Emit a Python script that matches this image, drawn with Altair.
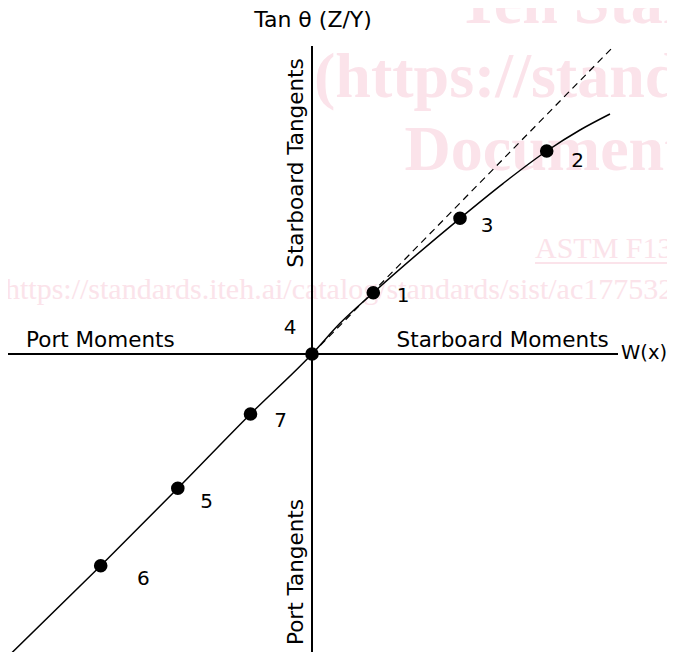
import altair as alt
import pandas as pd

# ---- data (arbitrary units: moment W(x), tangent Tan θ) ----
pt_label = ["4", "1", "3", "2", "7", "5", "6"]
pt_moment = [0.0, 0.613, 1.48, 2.347, -0.615, -1.342, -2.113]
pt_tangent = [0.0, 0.613, 1.357, 2.03, -0.60, -1.343, -2.117]
lab_moment = [-0.22, 0.91, 1.75, 2.655, -0.313, -1.054, -1.687]
lab_tangent = [0.26, 0.585, 1.28, 1.935, -0.667, -1.477, -2.253]

curve_moment = [-3.055, -2.113, -1.342, -0.615, 0.0, 0.28, 0.613, 1.48, 1.913, 2.347, 2.68, 2.98]
curve_tangent = [-3.04, -2.117, -1.343, -0.60, 0.0, 0.307, 0.613, 1.357, 1.707, 2.03, 2.24, 2.40]

dash_moment = [0.0, 3.02]
dash_tangent = [0.0, 3.08]

# axis extents
haxis_x = [-3.08, 3.06]
vaxis_y = [-3.06, 3.08]

# axis / region texts
h_text = ["Tan θ (Z/Y)", "Port Moments", "Starboard Moments"]
h_text_x = [0.01, -2.116, 1.907]
h_text_y = [3.275, 0.073, 0.073]
h_text_size = [22, 21.5, 21.5]
w_text = ["W(x)"]
w_text_x = [3.09]
w_text_y = [-0.05]
v_text = ["Starboard Tangents", "Port Tangents"]
v_text_x = [-0.15, -0.15]
v_text_y = [1.91, -2.18]

# watermark texts
wm_big = ["Teh Standards", "(https://standards.iteh.ai)", "Document Preview"]
wm_big_x = [1.45, 0.02, 0.926]
wm_big_y = [3.31, 2.57, 1.84]
wm_small = ["ASTM F1323-98", "https://standards.iteh.ai/catalog/standards/sist/ac177532"]
wm_small_x = [2.23, -3.07]
wm_small_y = [0.96, 0.55]
wm_line_x = [2.23, 3.7]
wm_line_y = [0.91]

X_DOM = [-3.04, 3.55]
Y_DOM = [-2.98, 3.46]
xs = alt.Scale(domain=X_DOM, nice=False, zero=False)
ys = alt.Scale(domain=Y_DOM, nice=False, zero=False)

def X(f="x"):
    return alt.X(f"{f}:Q", scale=xs, axis=None)

def Y(f="y"):
    return alt.Y(f"{f}:Q", scale=ys, axis=None)

PINK = "#fbe3ea"
FONT = "DejaVu Sans"

pts = pd.DataFrame({"x": pt_moment, "y": pt_tangent, "label": pt_label,
                    "lx": lab_moment, "ly": lab_tangent})
curve = pd.DataFrame({"x": curve_moment, "y": curve_tangent})
dash = pd.DataFrame({"x": dash_moment, "y": dash_tangent})

wm_big_df = pd.DataFrame({"x": wm_big_x, "y": wm_big_y, "t": wm_big})
wm_small_df = pd.DataFrame({"x": wm_small_x, "y": wm_small_y, "t": wm_small})
wm_line_df = pd.DataFrame({"x": [wm_line_x[0]], "x2": [wm_line_x[1]], "y": wm_line_y})

wm1 = alt.Chart(wm_big_df).mark_text(
    font="Liberation Serif", fontWeight="bold", fontSize=64, color=PINK,
    align="left", baseline="alphabetic"
).encode(x=X(), y=Y(), text="t:N")
wm2 = alt.Chart(wm_small_df).mark_text(
    font="Liberation Serif", fontSize=30, color=PINK,
    align="left", baseline="alphabetic"
).encode(x=X(), y=Y(), text="t:N")
wm3 = alt.Chart(wm_line_df).mark_rule(color=PINK, strokeWidth=2).encode(
    x=X(), x2="x2:Q", y=Y())

hax = alt.Chart(pd.DataFrame({"x": [haxis_x[0]], "x2": [haxis_x[1]], "y": [0.0]})).mark_rule(
    color="black", strokeWidth=2).encode(x=X(), x2="x2:Q", y=Y())
vax = alt.Chart(pd.DataFrame({"x": [0.0], "y": [vaxis_y[0]], "y2": [vaxis_y[1]]})).mark_rule(
    color="black", strokeWidth=2).encode(x=X(), y=Y(), y2="y2:Q")

dline = alt.Chart(dash).mark_line(color="black", strokeWidth=1.2, strokeDash=[7, 5]).encode(
    x=X(), y=Y(), order="x:Q")
cline = alt.Chart(curve).mark_line(color="black", strokeWidth=1.5, interpolate="monotone").encode(
    x=X(), y=Y(), order="x:Q")

dots = alt.Chart(pts).mark_circle(color="black", opacity=1, size=185).encode(x=X(), y=Y())
labs = alt.Chart(pts).mark_text(font=FONT, fontSize=20, color="black",
                                align="center", baseline="middle").encode(
    x=X("lx"), y=Y("ly"), text="label:N")

htxt = alt.Chart(pd.DataFrame({"x": h_text_x, "y": h_text_y, "t": h_text, "s": h_text_size})).mark_text(
    font=FONT, color="black", align="center", baseline="alphabetic"
).encode(x=X(), y=Y(), text="t:N", size=alt.Size("s:Q", scale=None, legend=None))
wtxt = alt.Chart(pd.DataFrame({"x": w_text_x, "y": w_text_y, "t": w_text})).mark_text(
    font=FONT, fontSize=19.5, color="black", align="left", baseline="alphabetic"
).encode(x=X(), y=Y(), text="t:N")
vtxt = alt.Chart(pd.DataFrame({"x": v_text_x, "y": v_text_y, "t": v_text})).mark_text(
    font=FONT, fontSize=21.5, color="black", align="center", baseline="middle", angle=270
).encode(x=X(), y=Y(), text="t:N")

chart = alt.layer(
    wm1, wm2, wm3, hax, vax, dline, cline, dots, labs, htxt, wtxt, vtxt
).properties(
    width=659, height=644, padding=0, background="white",
    autosize=alt.AutoSizeParams(type="none")
).configure_view(stroke=None)

chart.save("out.html", embed_options={"renderer": "svg", "actions": False})
